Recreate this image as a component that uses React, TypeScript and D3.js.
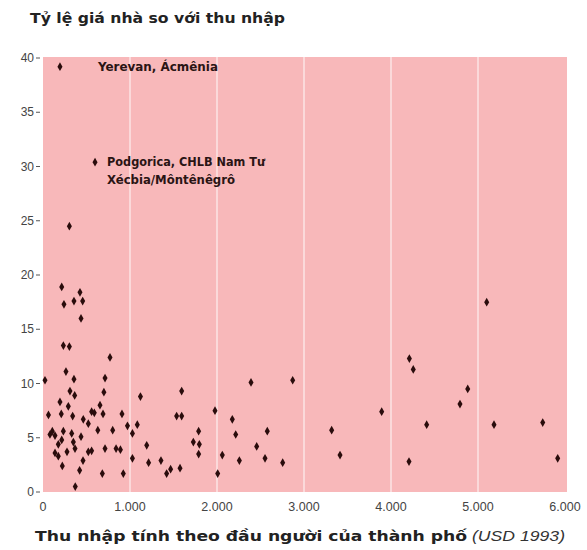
import React from "react";
import * as d3 from "d3";

const incomes = [
  195, 598, 303, 215, 241, 425, 356, 456, 437, 234, 303, 264, 356, 23, 310, 364, 195, 210, 291, 341,
  63, 463, 521, 559, 590, 655, 690, 713, 700, 770, 630, 801, 908, 971, 1028, 1084, 1120, 80, 107, 138,
  234, 215, 176, 330, 349, 368, 437, 138, 176, 222, 276, 460, 521, 559, 421, 371, 682, 713, 840, 890,
  923, 1028, 1192, 1214, 1356, 1421, 1467, 1575, 1594, 1536, 1594, 1728, 1797, 1789, 1789, 1977, 2008, 2061, 2176, 2215,
  2257, 2391, 2456, 2552, 2578, 2755, 2870, 3318, 3414, 3893, 4207, 4211, 4256, 4410, 4793, 4882, 5100, 5184, 5744, 5916,
];
const ratios = [
  39.2, 30.4, 24.5, 18.9, 17.3, 18.4, 17.6, 17.6, 16.0, 13.5, 13.4, 11.1, 10.4, 10.3, 9.3, 8.9, 8.3, 7.2, 7.9, 7.0,
  7.1, 6.7, 6.3, 7.4, 7.3, 8.0, 7.2, 10.5, 9.2, 12.4, 5.7, 5.7, 7.2, 6.1, 5.4, 6.2, 8.8, 5.3, 5.6, 5.2,
  5.6, 4.8, 4.4, 5.4, 4.6, 4.0, 5.1, 3.6, 3.3, 2.4, 3.7, 2.9, 3.7, 3.8, 2.0, 0.5, 1.7, 4.0, 4.0, 3.9,
  1.7, 3.1, 4.3, 2.7, 2.9, 1.7, 2.1, 2.2, 9.3, 7.0, 7.0, 4.6, 4.4, 5.6, 3.5, 7.5, 1.7, 3.4, 6.7, 5.3,
  2.9, 10.1, 4.2, 3.1, 5.6, 2.7, 10.3, 5.7, 3.4, 7.4, 2.8, 12.3, 11.3, 6.2, 8.1, 9.5, 17.5, 6.2, 6.4, 3.1,
];
const xTicks = [0, 1000, 2000, 3000, 4000, 5000, 6000];
const yTicks = [0, 5, 10, 15, 20, 25, 30, 35, 40];
const annotations = [
  { lines: ["Yerevan, Ácmênia"], widths: [120], x: 195, y: 39.2, dx: 38 },
  { lines: ["Podgorica, CHLB Nam Tư", "Xécbia/Môntênêgrô"], widths: [158, 128], x: 598, y: 30.4, dx: 12 },
];
const title = "Tỷ lệ giá nhà so với thu nhập";
const xTitleMain = "Thu nhập tính theo đầu người của thành phố";
const xTitleUnit = "(USD 1993)";

const W = 587;
const H = 550;
const m = { left: 43, right: 22, top: 58, bottom: 58 };

export default function App() {
  const x = d3.scaleLinear().domain([0, 6000]).range([m.left, W - m.right]);
  const y = d3.scaleLinear().domain([0, 40]).range([H - m.bottom, m.top]);
  const fmt = d3.formatLocale({ decimal: ",", thousands: ".", grouping: [3], currency: ["", ""] }).format(",");
  const diamond = d3.symbol().type(d3.symbolDiamond).size(22)();
  const font = "'Liberation Sans', Arial, sans-serif";
  const bold = "'DejaVu Sans', 'Liberation Sans', sans-serif";
  const data = incomes.map((v, i) => ({ x: v, y: ratios[i] }));

  return (
    <svg width={W} height={H} style={{ position: "absolute", left: 0, top: 0, background: "#fff" }} fontFamily={font}>
      <text x={30} y={23} fontSize={14} fontWeight="bold" fill="#222" fontFamily={bold}
        textLength={255} lengthAdjust="spacingAndGlyphs">{title}</text>
      <rect x={x(0)} y={y(40) - 1} width={x(6000) - x(0) + 2} height={y(0) - y(40) + 1} fill="#f8b8ba" />
      {xTicks.slice(1, -1).map((t) => (
        <line key={"g" + t} x1={x(t)} x2={x(t)} y1={y(40) - 1} y2={y(0)} stroke="#fde4e4" strokeWidth={1.5} />
      ))}
      {yTicks.map((t) => (
        <g key={"y" + t}>
          <line x1={x(0) - 7} x2={x(0) - 3} y1={y(t)} y2={y(t)} stroke="#555" strokeWidth={1} />
          <text x={x(0) - 9} y={y(t)} dy="0.35em" textAnchor="end" fontSize={12} fill="#444">{t}</text>
        </g>
      ))}
      {xTicks.map((t) => (
        <text key={"x" + t} x={x(t)} y={y(0) + 19} textAnchor="middle" fontSize={12.5} fill="#444">{fmt(t)}</text>
      ))}
      {data.map((d, i) => (
        <path key={i} d={diamond} transform={`translate(${x(d.x)},${y(d.y)})`} fill="#2a0c0c" />
      ))}
      {annotations.map((a, i) =>
        a.lines.map((l, j) => (
          <text key={"a" + i + "-" + j} x={x(a.x) + a.dx} y={y(a.y) + 4 + j * 18} fontSize={11.5} fontWeight="bold"
            fill="#2a1414" fontFamily={bold} textLength={a.widths[j]} lengthAdjust="spacingAndGlyphs">{l}</text>
        ))
      )}
      <text x={35} y={541} fontSize={14} fontWeight="bold" fill="#222" fontFamily={bold}
        textLength={432} lengthAdjust="spacingAndGlyphs">{xTitleMain}</text>
      <text x={472} y={541} fontSize={14} fontStyle="italic" fill="#333"
        textLength={93} lengthAdjust="spacingAndGlyphs">{xTitleUnit}</text>
    </svg>
  );
}
